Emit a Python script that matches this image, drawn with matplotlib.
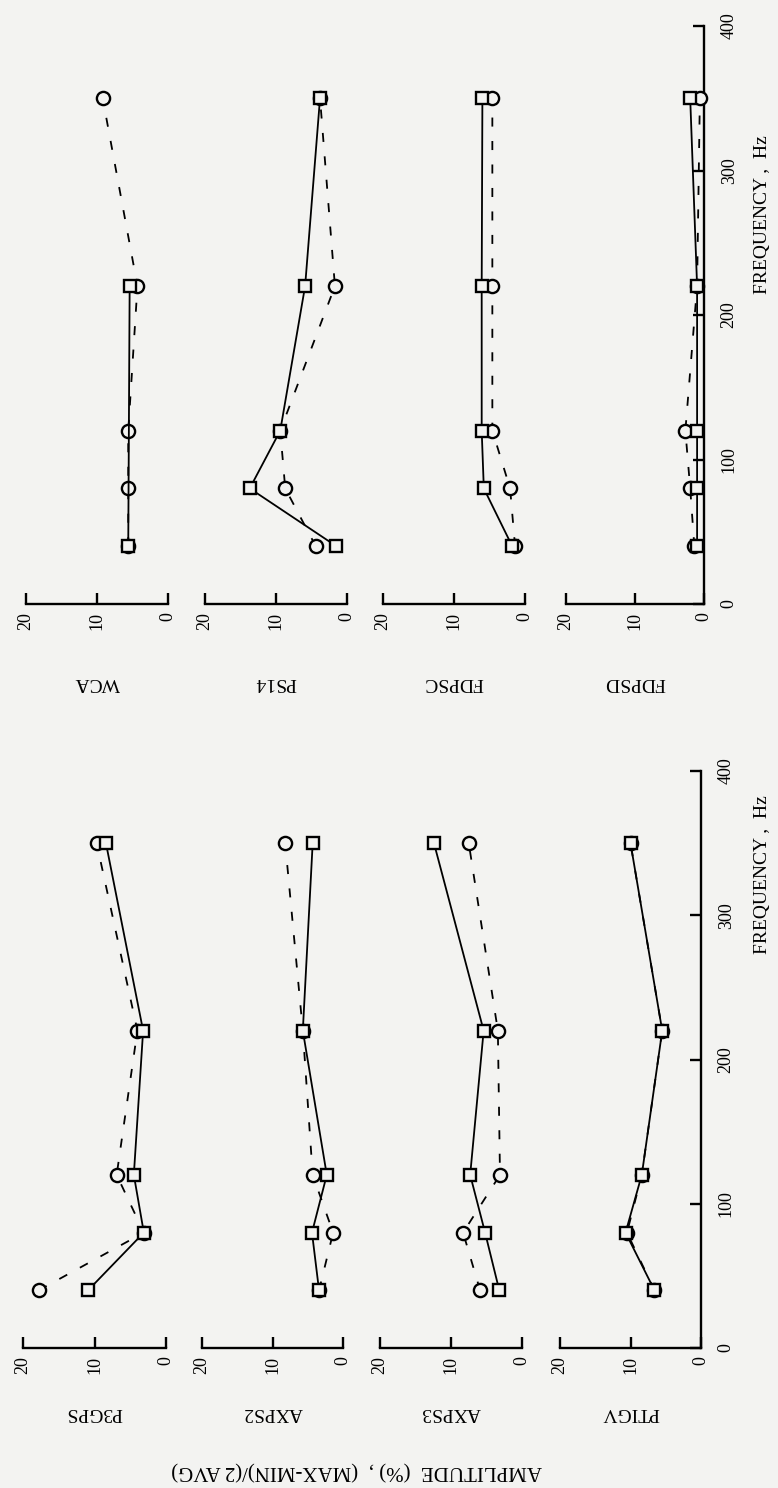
import numpy as np
import matplotlib.pyplot as plt

plt.rcParams['font.family'] = ['Liberation Serif', 'DejaVu Serif']

# test frequencies, Hz
freq = [40, 80, 120, 220, 350]

# amplitude (%): squares = solid line, circles = dashed line
p3gps_sq = [10.9, 3.1, 4.5, 3.2, 8.4]
p3gps_ci = [17.8, 3.1, 6.9, 4.0, 9.7]
axps2_sq = [3.4, 4.4, 2.3, 5.7, 4.3]
axps2_ci = [3.4, 1.4, 4.3, 5.7, 8.2]
axps3_sq = [3.2, 5.2, 7.3, 5.4, 12.4]
axps3_ci = [5.9, 8.3, 3.1, 3.4, 7.5]
ptigv_sq = [6.6, 10.7, 8.4, 5.5, 10.0]
ptigv_ci = [6.6, 10.5, 8.4, 5.5, 10.0]

wca_freq_sq = [40, 220]
wca_sq = [5.6, 5.4]
wca_ci = [5.6, 5.6, 5.6, 4.3, 9.2]
ps14_sq = [1.5, 13.7, 9.4, 5.9, 3.8]
ps14_ci = [4.4, 8.7, 9.4, 1.7, 3.8]
fdpsc_sq = [1.8, 5.8, 6.1, 6.1, 6.0]
fdpsc_ci = [1.4, 2.1, 4.6, 4.6, 4.6]
fdpsd_sq = [1.0, 1.0, 1.0, 1.0, 2.0]
fdpsd_ci = [1.4, 2.0, 2.7, 1.0, 0.6]

amp_ticks = [20, 10, 0]
freq_ticks = [0, 100, 200, 300, 400]

BG = '#f3f3f1'
W, H = 778, 1488
fig = plt.figure(figsize=(W / 100, H / 100), dpi=100, facecolor=BG)

# pixel layout of the (rotated) page: amplitude runs right-to-left,
# frequency runs bottom-to-top
upper = dict(y0=604, y400=26, label_y=683, xs=[(26, 168), (205, 347), (383, 525), (566, 704)])
lower = dict(y0=1348, y400=771, label_y=1413, xs=[(23, 166), (202, 343), (380, 522), (560, 701)])

panels = [
    (upper, 0, 'WCA', (wca_freq_sq, wca_sq), (freq, wca_ci)),
    (upper, 1, 'PS14', (freq, ps14_sq), (freq, ps14_ci)),
    (upper, 2, 'FDPSC', (freq, fdpsc_sq), (freq, fdpsc_ci)),
    (upper, 3, 'FDPSD', (freq, fdpsd_sq), (freq, fdpsd_ci)),
    (lower, 0, 'P3GPS', (freq, p3gps_sq), (freq, p3gps_ci)),
    (lower, 1, 'AXPS2', (freq, axps2_sq), (freq, axps2_ci)),
    (lower, 2, 'AXPS3', (freq, axps3_sq), (freq, axps3_ci)),
    (lower, 3, 'PTIGV', (freq, ptigv_sq), (freq, ptigv_ci)),
]

for half, col, name, (fs, sq), (fc, ci) in panels:
    x20, x0 = half['xs'][col]
    ax = fig.add_axes([x20 / W, 1 - half['y0'] / H,
                       (x0 - x20) / W, (half['y0'] - half['y400']) / H])
    ax.patch.set_alpha(0)
    ax.set_xlim(20, 0)
    ax.set_ylim(0, 400)

    # amplitude on the horizontal, frequency on the vertical
    ax.plot(ci, fc, color='black', lw=1.3, ls=(0, (5, 8)), marker='o',
            ms=9.5, mfc=BG, mec='black', mew=1.7, clip_on=False, zorder=3)
    ax.plot(sq, fs, color='black', lw=1.3, ls='-', marker='s',
            ms=8.5, mfc=BG, mec='black', mew=1.7, clip_on=False, zorder=4)

    for side in ['top', 'left', 'right']:
        ax.spines[side].set_visible(False)
    ax.spines['bottom'].set_linewidth(1.7)
    ax.set_xticks(amp_ticks)
    ax.set_xticklabels([str(t) for t in amp_ticks], rotation=90)
    ax.tick_params(axis='x', direction='in', length=8, width=1.7, pad=6,
                   labelsize=13)

    if col == 3:
        ax.spines['right'].set_visible(True)
        ax.spines['right'].set_linewidth(1.7)
        ax.yaxis.tick_right()
        ax.set_yticks(freq_ticks)
        ax.set_yticklabels([str(t) for t in freq_ticks], rotation=90, va='center')
        ax.tick_params(axis='y', direction='in', length=8, width=1.7, pad=12,
                       labelsize=13)
    else:
        ax.set_yticks([])

    fig.text((x20 + x0) / 2 / W, 1 - half['label_y'] / H, name, rotation=180,
             ha='center', va='center', fontsize=14)

# frequency axis titles (reading bottom-to-top)
fig.text(762 / W, 1 - 215 / H, 'FREQUENCY ,  Hz', rotation=90,
         ha='center', va='center', fontsize=14)
fig.text(762 / W, 1 - 875 / H, 'FREQUENCY ,  Hz', rotation=90,
         ha='center', va='center', fontsize=14)

# amplitude title (upside down at the bottom of the page)
fig.text(357 / W, 1 - 1470 / H, 'AMPLITUDE  (%) ,  (MAX-MIN)/(2 AVG)',
         rotation=180, ha='center', va='center', fontsize=15)

fig.savefig('out.png', dpi=100, facecolor=BG)
